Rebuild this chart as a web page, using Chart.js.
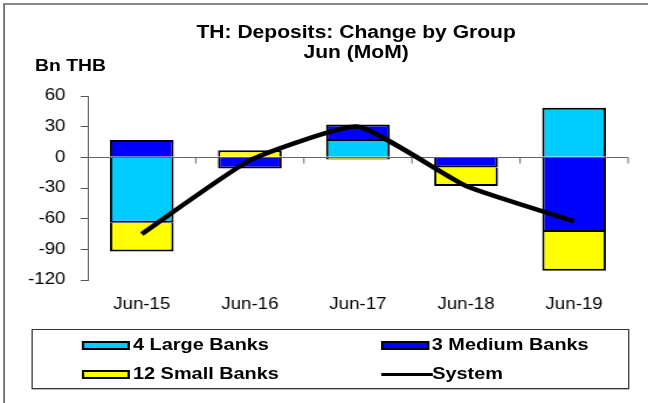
<!DOCTYPE html>
<html>
<head>
<meta charset="utf-8">
<script src="https://cdn.jsdelivr.net/npm/chart.js@4.4.1/dist/chart.umd.min.js"></script>
<style>
  body { margin: 0; background: #fff; font-family: "Liberation Sans", Arial, sans-serif; }
  #wrap { position: relative; width: 648px; height: 403px; overflow: hidden; }
  /* the reference is a horizontally stretched picture, so the whole page is drawn narrower and stretched */
  #inner { position: absolute; left: 0; top: 0; width: 554px; height: 403px;
           transform: scaleX(1.1697); transform-origin: 0 0; }
  #frame { position: absolute; left: 2.6px; top: 3px; width: 600px; height: 420px;
           border-top: 2px solid #888; border-left: 1.7px solid #222; }
  #chart { position: absolute; left: 0; top: 0; }
  .title { position: absolute; left: 104.5px; width: 400px; text-align: center; line-height: 20px;
           font-weight: bold; font-size: 18px; color: #000; }
  #unit { position: absolute; left: 30px; top: 55.5px; font-weight: bold; font-size: 16.5px; }
  #legend { position: absolute; left: 26.5px; top: 329px; width: 509px; height: 58px;
            border: 1px solid #333; box-shadow: 0 1px 0 #bbb; }
  .item { position: absolute; display: flex; align-items: center;
          font-weight: bold; font-size: 17px; color: #000; height: 20px; }
  .sw { width: 37px; height: 5px; border: 2px solid #000; margin-right: 2.6px; }
  .ln { width: 44px; height: 3px; background: #000; margin-right: 0; }
</style>
</head>
<body>
<div id="wrap">
 <div id="inner">
  <div id="frame"></div>
  <div class="title" style="top:21.5px">TH: Deposits: Change by Group</div>
  <div class="title" style="top:42px">Jun (MoM)</div>
  <div id="unit">Bn THB</div>
  <canvas id="chart" width="554" height="320"></canvas>
  <div id="legend"></div>
 </div>
</div>
<script>
// data (Bn THB, MoM change)
var categories = ['Jun-15', 'Jun-16', 'Jun-17', 'Jun-18', 'Jun-19'];
var largeBanks = [-64, 0, 18, 0, 48.5];
var mediumBanks = [17, -11, 14, -10, -73];
var smallBanks = [-28, 7, -2, -18, -38];
var systemTotal = [-75, -3, 30, -28, -62.5];
var seriesNames = ['4 Large Banks', '3 Medium Banks', '12 Small Banks', 'System'];
var yTicks = [60, 30, 0, -30, -60, -90, -120];

var colors = ['#00CCFF', '#0000FF', '#FFFF00', '#000000'];

// zero line with small tick marks between categories
var zeroLine = {
  id: 'zeroLine',
  beforeDatasetsDraw: function (chart) {
    var ctx = chart.ctx, x = chart.scales.x, y = chart.scales.y;
    var y0 = Math.round(y.getPixelForValue(0)) + 0.5;
    ctx.save();
    ctx.strokeStyle = '#666';
    ctx.lineWidth = 1;
    ctx.beginPath();
    ctx.moveTo(chart.chartArea.left, y0);
    ctx.lineTo(chart.chartArea.right, y0);
    for (var i = 0; i < categories.length; i++) {
      var bx = i < categories.length - 1
        ? (x.getPixelForValue(i) + x.getPixelForValue(i + 1)) / 2
        : chart.chartArea.right;
      ctx.moveTo(bx, y0);
      ctx.lineTo(bx, y0 + 6);
    }
    ctx.stroke();
    ctx.restore();
  }
};

var chart = new Chart(document.getElementById('chart'), {
  type: 'bar',
  data: {
    labels: categories,
    datasets: [
      { label: seriesNames[0], data: largeBanks, backgroundColor: colors[0], borderColor: '#000', borderWidth: 2, order: 1 },
      { label: seriesNames[1], data: mediumBanks, backgroundColor: colors[1], borderColor: '#000', borderWidth: 2, order: 1 },
      { label: seriesNames[2], data: smallBanks, backgroundColor: colors[2], borderColor: '#000', borderWidth: 2, order: 1 },
      { type: 'line', label: seriesNames[3], data: systemTotal, stack: 'sys', borderColor: colors[3],
        borderWidth: 4.5, pointRadius: 0, tension: 0.15, order: 0 }
    ]
  },
  options: {
    responsive: false,
    animation: false,
    layout: { padding: { left: 0, right: 17, top: 96, bottom: 0 } },
    datasets: { bar: { categoryPercentage: 1, barPercentage: 0.59 } },
    plugins: { legend: { display: false }, tooltip: { enabled: false } },
    scales: {
      x: {
        stacked: true,
        grid: { display: false },
        border: { display: false },
        ticks: { color: '#000', font: { family: 'Liberation Sans', size: 16 }, padding: 7 },
        afterFit: function (s) { s.height = 40; }
      },
      y: {
        stacked: true,
        min: -120, max: 60,
        afterBuildTicks: function (s) { s.ticks = yTicks.map(function (v) { return { value: v }; }); },
        grid: { drawOnChartArea: false, drawTicks: true, tickLength: 6, color: '#555' },
        border: { display: true, color: '#555', width: 1 },
        ticks: { color: '#000', font: { family: 'Liberation Sans', size: 16 }, padding: 13 },
        afterFit: function (s) { s.width = 75; }
      }
    }
  },
  plugins: [zeroLine]
});

// legend built from the dataset names
var legendPos = [[42.6, 5], [298, 5], [42.6, 34], [298, 34]];
var legend = document.getElementById('legend');
chart.data.datasets.forEach(function (ds, i) {
  var item = document.createElement('div');
  item.className = 'item';
  item.style.left = legendPos[i][0] + 'px';
  item.style.top = legendPos[i][1] + 'px';
  var mark = document.createElement('span');
  if (ds.type === 'line') {
    mark.className = 'ln';
  } else {
    mark.className = 'sw';
    mark.style.background = ds.backgroundColor;
  }
  item.appendChild(mark);
  item.appendChild(document.createTextNode(ds.label));
  legend.appendChild(item);
});
</script>
</body>
</html>
